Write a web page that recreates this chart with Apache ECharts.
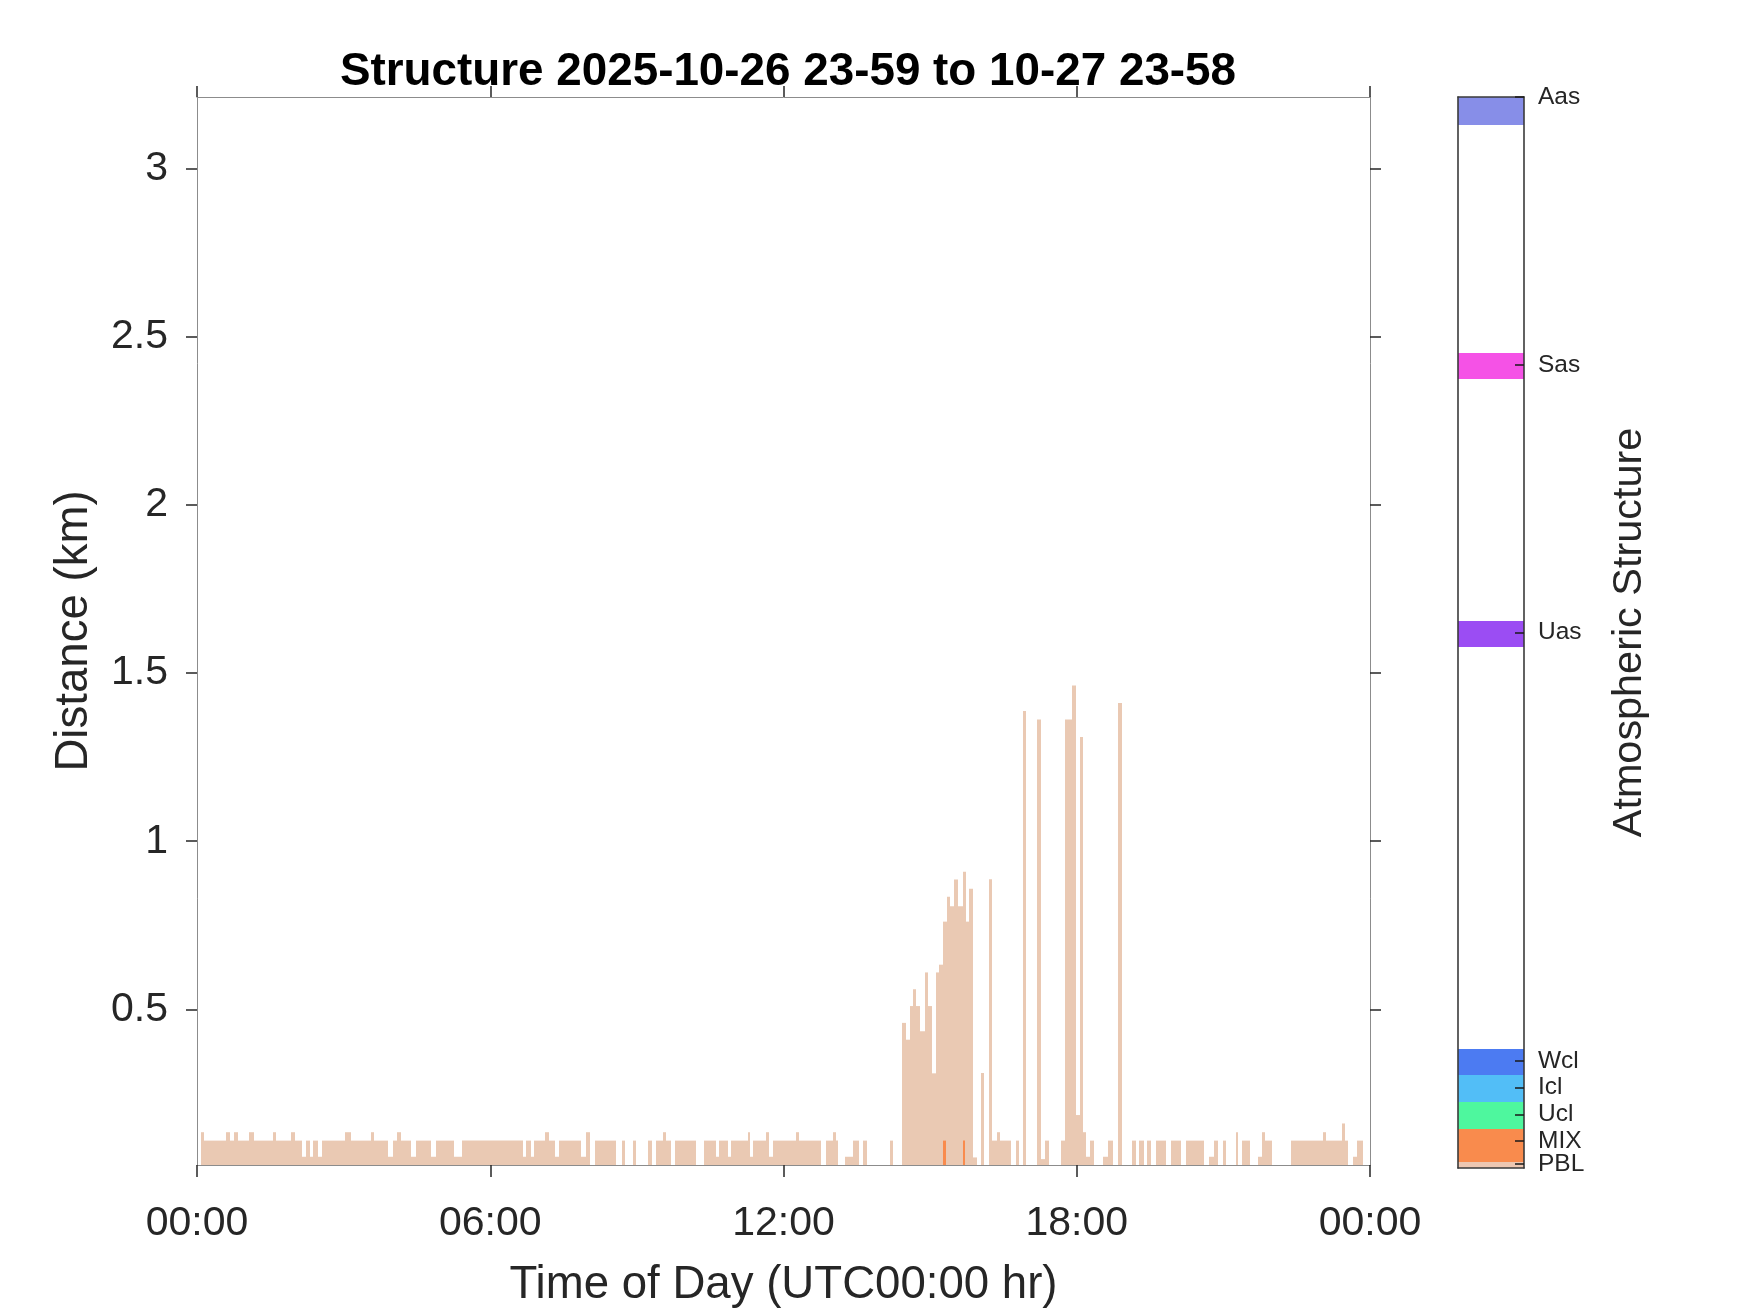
<!DOCTYPE html>
<html>
<head>
<meta charset="utf-8">
<title>Structure</title>
<script src="https://cdn.jsdelivr.net/npm/echarts@6/dist/echarts.min.js"></script>
<style>
  html, body { margin: 0; padding: 0; background: #ffffff; }
  #chart { width: 1750px; height: 1313px; }
</style>
</head>
<body>
<div id="chart"></div>
<script>
// PBL top height (km), each value holds from breakMinutes[i] to breakMinutes[i+1]; null = no return
var breakMinutes = [
  5.0, 9.2, 35.8, 39.9, 46.0, 50.9, 64.4, 69.4, 93.1, 97.2,
  115.6, 120.6, 128.7, 134.1, 139.0, 143.0, 148.3, 153.7, 182.3, 189.3,
  213.0, 217.9, 234.2, 241.2, 245.8, 250.7, 263.0, 269.1, 287.5, 292.8,
  316.1, 325.6, 400.0, 404.1, 410.3, 414.3, 427.8, 432.7, 440.1, 445.0,
  471.7, 477.8, 482.7, 488.0, 514.6, 521.5, 525.7, 535.0, 539.2, 553.4,
  558.8, 562.9, 571.8, 576.0, 582.1, 586.2, 612.8, 623.0, 637.4, 641.4,
  651.6, 655.8, 676.2, 679.1, 682.3, 698.8, 701.6, 706.9, 735.6, 738.8,
  766.3, 772.4, 780.5, 784.7, 786.7, 794.9, 805.1, 812.4, 817.4, 822.3,
  851.0, 854.2, 864.9, 869.8, 874.7, 878.7, 882.9, 887.8, 893.1, 898.0,
  902.1, 906.6, 911.5, 916.4, 920.5, 924.6, 929.9, 934.8, 939.8, 944.3,
  948.3, 952.9, 957.3, 962.7, 966.7, 972.0, 976.2, 981.9, 986.0, 999.5,
  1005.7, 1008.9, 1013.8, 1017.9, 1031.4, 1036.3, 1041.6, 1046.5, 1060.9, 1065.0,
  1074.4, 1078.5, 1083.4, 1087.4, 1091.6, 1095.7, 1100.6, 1112.0, 1118.1, 1124.3,
  1130.4, 1135.3, 1148.1, 1153.0, 1157.0, 1162.0, 1166.0, 1171.4, 1176.7, 1189.8,
  1195.1, 1208.2, 1214.4, 1236.8, 1242.1, 1247.9, 1253.2, 1259.3, 1263.5, 1274.9,
  1278.2, 1283.1, 1292.9, 1302.3, 1307.7, 1310.9, 1320.0, 1343.3, 1382.1, 1386.2,
  1405.9, 1409.1, 1413.3, 1418.9, 1424.3, 1432.0
];
var pblTopKm = [
  0.135, 0.11, 0.135, 0.11, 0.135, 0.11, 0.135, 0.11, 0.135, 0.11,
  0.135, 0.11, 0.062, 0.11, 0.062, 0.11, 0.062, 0.11, 0.135, 0.11,
  0.135, 0.11, 0.062, 0.11, 0.135, 0.11, 0.062, 0.11, 0.062, 0.11,
  0.062, 0.11, 0.062, 0.11, 0.062, 0.11, 0.135, 0.11, 0.062, 0.11,
  0.062, 0.135, null, 0.11, null, 0.11, null, 0.11, null, 0.11,
  null, 0.11, 0.135, 0.11, null, 0.11, null, 0.11, 0.062, 0.11,
  0.062, 0.11, 0.135, 0.062, 0.11, 0.135, 0.062, 0.11, 0.135, 0.11,
  null, 0.11, 0.135, 0.11, null, 0.062, 0.11, null, 0.11, null,
  0.11, null, 0.46, 0.41, 0.51, 0.56, 0.51, 0.435, 0.61, 0.51,
  0.31, 0.61, 0.633, 0.761, 0.835, 0.807, 0.886, 0.807, 0.909, 0.761,
  0.859, 0.06, null, 0.311, null, 0.887, 0.11, 0.135, 0.11, null,
  0.11, null, 1.387, null, 1.362, 0.055, 0.11, null, 0.11, 1.362,
  1.463, 0.186, 1.31, 0.135, 0.062, 0.11, null, 0.062, 0.11, null,
  1.411, null, 0.11, null, 0.11, null, 0.11, null, 0.11, null,
  0.11, null, 0.11, null, 0.062, 0.11, null, 0.11, null, 0.135,
  null, 0.11, null, 0.062, 0.135, 0.11, null, 0.11, 0.135, 0.11,
  0.161, 0.11, null, 0.062, 0.11
];
// mixed layer spikes
var mixStartMin = [916.4, 940.1];
var mixEndMin = [919.7, 942.6];
var mixTopKm = [0.11, 0.11];

// colour bar classes
var classNames = ['PBL', 'MIX', 'Ucl', 'Icl', 'Wcl', 'Uas', 'Sas', 'Aas'];
var classColors = ['#EDC7B2', '#F98B4D', '#4EF79E', '#52BEF7', '#4C7BF2', '#9B4DF3', '#F552E6', '#878EE8'];
var classLow = [0, 0.22, 1.45, 2.46, 3.46, 19.46, 29.46, 38.97];
var classHigh = [0.22, 1.45, 2.46, 3.46, 4.46, 20.44, 30.44, 40];
var classTick = [0.15, 1, 2, 3, 4, 20, 30, 40];

var kmTicks = [0.5, 1, 1.5, 2, 2.5, 3];
var Y_MIN = 0.0375, Y_MAX = 3.2125;

var FONT = "'Liberation Sans', Arial, Helvetica, sans-serif";
var INK = '#262626';
var AXIS_GREY = '#8c8c8c';
var BAR_EDGE = '#3a3a3a';
var PBL_COLOR = '#EAC9B3';

// build the column segments
var pblSegs = [];
for (var i = 0; i < pblTopKm.length; i++) {
  if (pblTopKm[i] != null) pblSegs.push([breakMinutes[i], breakMinutes[i + 1], pblTopKm[i]]);
}
var mixSegs = [];
for (var j = 0; j < mixTopKm.length; j++) {
  mixSegs.push([mixStartMin[j], mixEndMin[j], mixTopKm[j]]);
}
var bandData = [];
for (var k = 0; k < classNames.length; k++) {
  bandData.push({ value: [0, 1, classLow[k], classHigh[k]], itemStyle: { color: classColors[k] } });
}
// a blank first tick at 0 takes the min-label overlap check, so PBL and MIX both stay
var bandAxisTicks = [0].concat(classTick);

function renderColumn(params, api) {
  var base = api.coord([api.value(0), Y_MIN]);
  var top = api.coord([api.value(1), api.value(2)]);
  var x0 = Math.round(base[0]), x1 = Math.round(top[0]);
  return {
    type: 'rect',
    shape: { x: x0, y: top[1], width: x1 - x0, height: base[1] - top[1] },
    style: { fill: api.visual('color') }
  };
}

function renderBand(params, api) {
  var lo = api.coord([api.value(0), api.value(2)]);
  var hi = api.coord([api.value(1), api.value(3)]);
  return {
    type: 'rect',
    shape: { x: lo[0], y: Math.round(hi[1]), width: hi[0] - lo[0], height: Math.round(lo[1]) - Math.round(hi[1]) },
    style: { fill: api.visual('color') }
  };
}

function hhmm(v) {
  var h = Math.round(v / 60) % 24;
  return (h < 10 ? '0' : '') + h + ':00';
}

// frame line only, for the mirrored sides
function frameAxis(grid, pos, min, max, color, width) {
  return {
    gridIndex: grid, type: 'value', position: pos, min: min, max: max, z: 5,
    axisLine: { show: true, onZero: false, lineStyle: { color: color, width: width } },
    axisTick: { show: false }, axisLabel: { show: false }, splitLine: { show: false }
  };
}

var myChart = echarts.init(document.getElementById('chart'));

var topAxis = frameAxis(0, 'top', 0, 1440, AXIS_GREY, 1);
topAxis.interval = 360;
topAxis.axisTick = { show: true, inside: false, length: 11, lineStyle: { color: INK, width: 1.5 } };

var rightAxis = frameAxis(0, 'right', Y_MIN, Y_MAX, AXIS_GREY, 1);
rightAxis.axisTick = { show: true, inside: false, length: 11, customValues: kmTicks, lineStyle: { color: INK, width: 1.5 } };

var option = {
  animation: false,
  backgroundColor: '#ffffff',
  title: {
    text: 'Structure 2025-10-26 23-59 to 10-27 23-58',
    left: 783,
    top: 44,
    textAlign: 'center',
    textStyle: { fontFamily: FONT, fontSize: 45.8, fontWeight: 'bold', color: '#000000' }
  },
  grid: [
    { left: 197, top: 97, width: 1173, height: 1071 },
    { left: 1458, top: 97, width: 66, height: 1071 }
  ],
  xAxis: [
    {
      gridIndex: 0, type: 'value', position: 'bottom', min: 0, max: 1440, interval: 360, z: 5,
      name: 'Time of Day (UTC00:00 hr)', nameLocation: 'middle', nameGap: 97,
      nameTextStyle: { fontFamily: FONT, fontSize: 45.6, color: INK },
      axisLine: { show: true, onZero: false, lineStyle: { color: AXIS_GREY, width: 1 } },
      axisTick: { show: true, inside: false, length: 12, lineStyle: { color: INK, width: 1.5 } },
      axisLabel: { margin: 38, fontFamily: FONT, fontSize: 41, color: INK, formatter: hhmm, showMinLabel: true, showMaxLabel: true },
      splitLine: { show: false }
    },
    topAxis,
    frameAxis(1, 'bottom', 0, 1, BAR_EDGE, 1.6),
    frameAxis(1, 'top', 0, 1, BAR_EDGE, 1.6)
  ],
  yAxis: [
    {
      gridIndex: 0, type: 'value', position: 'left', min: Y_MIN, max: Y_MAX, z: 5,
      name: 'Distance (km)', nameLocation: 'middle', nameGap: 100,
      nameTextStyle: { fontFamily: FONT, fontSize: 45.6, color: INK },
      axisLine: { show: true, onZero: false, lineStyle: { color: AXIS_GREY, width: 1 } },
      axisTick: { show: true, inside: false, length: 11, customValues: kmTicks, lineStyle: { color: INK, width: 1.5 } },
      axisLabel: { margin: 29, fontFamily: FONT, fontSize: 41, color: INK, customValues: kmTicks },
      splitLine: { show: false }
    },
    rightAxis,
    {
      gridIndex: 1, type: 'value', position: 'right', min: 0, max: 40, z: 5,
      name: 'Atmospheric Structure', nameLocation: 'middle', nameGap: 85, nameRotate: 90,
      nameTextStyle: { fontFamily: FONT, fontSize: 41.4, color: INK },
      axisLine: { show: true, onZero: false, lineStyle: { color: BAR_EDGE, width: 1.6 } },
      axisTick: { show: true, inside: true, length: 9, customValues: bandAxisTicks, lineStyle: { color: '#1a1a1a', width: 1.5 } },
      axisLabel: {
        margin: 14, fontFamily: FONT, fontSize: 24.5, color: INK, customValues: bandAxisTicks,
        padding: [6, 0, 0, 0],
        hideOverlap: false, showMinLabel: false, showMaxLabel: true,
        formatter: function (v) {
          var idx = classTick.indexOf(v);
          return idx >= 0 ? classNames[idx] : '';
        }
      },
      splitLine: { show: false }
    },
    frameAxis(1, 'left', 0, 40, BAR_EDGE, 1.6)
  ],
  series: [
    {
      name: 'PBL', type: 'custom', xAxisIndex: 0, yAxisIndex: 0,
      renderItem: renderColumn, encode: { x: [0, 1], y: 2 },
      itemStyle: { color: PBL_COLOR }, data: pblSegs, clip: true, z: 2
    },
    {
      name: 'MIX', type: 'custom', xAxisIndex: 0, yAxisIndex: 0,
      renderItem: renderColumn, encode: { x: [0, 1], y: 2 },
      itemStyle: { color: '#F98B4D' }, data: mixSegs, clip: true, z: 3
    },
    {
      name: 'classes', type: 'custom', xAxisIndex: 2, yAxisIndex: 2,
      renderItem: renderBand, encode: { x: [0, 1], y: [2, 3] },
      data: bandData, z: 2
    }
  ]
};
myChart.setOption(option);
</script>
</body>
</html>
